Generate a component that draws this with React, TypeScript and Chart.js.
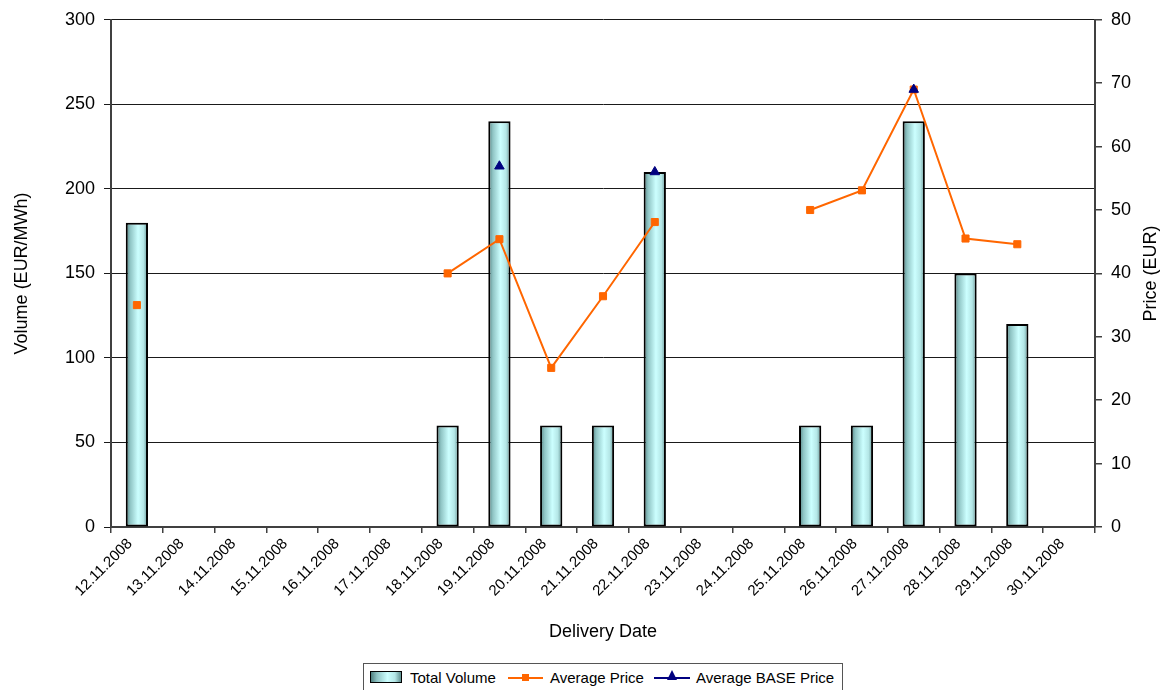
import React, { useEffect, useRef } from "react";
import { Chart, registerables } from "chart.js";

Chart.register(...registerables);

const DATES = [
  "12.11.2008", "13.11.2008", "14.11.2008", "15.11.2008", "16.11.2008",
  "17.11.2008", "18.11.2008", "19.11.2008", "20.11.2008", "21.11.2008",
  "22.11.2008", "23.11.2008", "24.11.2008", "25.11.2008", "26.11.2008",
  "27.11.2008", "28.11.2008", "29.11.2008", "30.11.2008",
];

const TOTAL_VOLUME = [
  180, null, null, null, null, null, 60, 240, 60, 60, 210, null, null, 60, 60, 240, 150, 120, null,
];

const AVERAGE_PRICE = [
  35, null, null, null, null, null, 40, 45.4, 25.1, 36.4, 48.1, null, null, 50, 53.1, 69, 45.5, 44.6, null,
];

const AVERAGE_BASE_PRICE = [
  null, null, null, null, null, null, null, 56.9, null, null, 56, null, null, null, null, 69, null, null, null,
];

const LEFT_TICKS = [0, 50, 100, 150, 200, 250, 300];
const RIGHT_TICKS = [0, 10, 20, 30, 40, 50, 60, 70, 80];

const FONT = '"Liberation Sans", Arial, sans-serif';
const BAR_PCT = 0.43;

const rightTitlePlugin = {
  id: "rightTitle",
  afterDraw(chart: any) {
    const { ctx, chartArea } = chart;
    const s = chart.scales.y1;
    ctx.save();
    ctx.translate(s.right - 18, (chartArea.top + chartArea.bottom) / 2);
    ctx.rotate(-Math.PI / 2);
    ctx.font = `18px ${FONT}`;
    ctx.fillStyle = "#000";
    ctx.textAlign = "center";
    ctx.textBaseline = "middle";
    ctx.fillText("Price (EUR)", 0, 0);
    ctx.restore();
  },
};

function barFill(c: any) {
  const chart = c.chart;
  const xs = chart.scales && chart.scales.x;
  if (!xs || c.type !== "data") return "#ccffff";
  const cx = xs.getPixelForValue(c.dataIndex);
  const w = (xs.width / DATES.length) * BAR_PCT;
  if (!isFinite(cx) || !isFinite(w) || w <= 0) return "#ccffff";
  const g = chart.ctx.createLinearGradient(cx - w / 2, 0, cx + w / 2, 0);
  g.addColorStop(0, "#4f7f7f");
  g.addColorStop(0.2, "#8fc4c4");
  g.addColorStop(0.55, "#ccffff");
  g.addColorStop(0.8, "#b4e6e6");
  g.addColorStop(1, "#5f8f8f");
  return g;
}

export default function App() {
  const ref = useRef<HTMLCanvasElement | null>(null);

  useEffect(() => {
    if (!ref.current) return;
    const chart = new Chart(ref.current, {
      type: "bar",
      data: {
        labels: DATES,
        datasets: [
          {
            type: "line",
            label: "Average BASE Price",
            data: AVERAGE_BASE_PRICE,
            yAxisID: "y1",
            borderColor: "#000080",
            backgroundColor: "#000080",
            borderWidth: 2,
            pointStyle: "triangle",
            pointRadius: 5.5,
            pointBorderWidth: 1,
            spanGaps: false,
            order: 0,
          } as any,
          {
            type: "line",
            label: "Average Price",
            data: AVERAGE_PRICE,
            yAxisID: "y1",
            borderColor: "#ff6600",
            backgroundColor: "#ff6600",
            borderWidth: 2,
            pointStyle: "rect",
            pointRadius: 5,
            pointBorderWidth: 1,
            spanGaps: false,
            order: 1,
          } as any,
          {
            type: "bar",
            label: "Total Volume",
            data: TOTAL_VOLUME,
            yAxisID: "y",
            backgroundColor: barFill,
            borderColor: "#000",
            borderWidth: 2,
            borderSkipped: false,
            barPercentage: BAR_PCT,
            categoryPercentage: 1,
            order: 2,
          } as any,
        ],
      },
      options: {
        animation: false,
        responsive: false,
        maintainAspectRatio: false,
        layout: { padding: { top: 19, left: 0, right: 0, bottom: 0 } },
        plugins: {
          legend: { display: false },
          tooltip: { enabled: false },
          title: { display: false },
        },
        scales: {
          x: {
            offset: true,
            afterFit: (s: any) => {
              s.height = 163;
            },
            grid: {
              display: true,
              offset: true,
              drawOnChartArea: false,
              drawTicks: true,
              tickLength: 6,
              color: "#404040",
              lineWidth: 1.5,
            },
            border: { display: true, color: "#404040", width: 2 },
            ticks: {
              autoSkip: false,
              maxRotation: 45,
              minRotation: 45,
              color: "#000",
              padding: 2,
              labelOffset: -7,
              font: { family: FONT, size: 15 },
            },
            title: {
              display: true,
              text: "Delivery Date",
              color: "#000",
              font: { family: FONT, size: 18 },
              padding: { top: 0, bottom: 47 },
            },
          },
          y: {
            position: "left",
            min: 0,
            max: 300,
            afterFit: (s: any) => {
              s.width = 111;
            },
            afterBuildTicks: (s: any) => {
              s.ticks = LEFT_TICKS.map((v) => ({ value: v }));
            },
            grid: {
              display: true,
              drawOnChartArea: true,
              drawTicks: true,
              tickLength: 7,
              color: "#1a1a1a",
              lineWidth: 1,
            },
            border: { display: true, color: "#404040", width: 2 },
            ticks: {
              color: "#000",
              padding: 9,
              font: { family: FONT, size: 18 },
            },
            title: {
              display: true,
              text: "Volume (EUR/MWh)",
              color: "#000",
              font: { family: FONT, size: 18 },
              padding: { top: 11, bottom: 0 },
            },
          },
          y1: {
            position: "right",
            min: 0,
            max: 80,
            afterFit: (s: any) => {
              s.width = 74;
            },
            afterBuildTicks: (s: any) => {
              s.ticks = RIGHT_TICKS.map((v) => ({ value: v }));
            },
            grid: {
              display: true,
              drawOnChartArea: false,
              drawTicks: true,
              tickLength: 7,
              color: "#404040",
              lineWidth: 1.5,
            },
            border: { display: true, color: "#404040", width: 2 },
            ticks: {
              color: "#000",
              padding: 9,
              font: { family: FONT, size: 18 },
            },
          },
        },
      },
      plugins: [rightTitlePlugin],
    } as any);
    return () => chart.destroy();
  }, []);

  const legendText: React.CSSProperties = {
    position: "absolute",
    top: 0,
    height: 28,
    lineHeight: "28px",
    fontFamily: FONT,
    fontSize: 15,
    color: "#000",
    whiteSpace: "nowrap",
  };

  return (
    <div
      style={{
        position: "fixed",
        left: 0,
        top: 0,
        width: 1169,
        height: 690,
        background: "#fff",
        overflow: "hidden",
      }}
    >
      <canvas ref={ref} width={1169} height={690} style={{ display: "block" }} />
      <div
        style={{
          position: "absolute",
          left: 363,
          top: 663,
          width: 478,
          height: 32,
          border: "1px solid #555",
          background: "#fff",
        }}
      >
        <div
          style={{
            position: "absolute",
            left: 6,
            top: 7,
            width: 30,
            height: 10,
            border: "1.5px solid #000",
            background:
              "linear-gradient(to right, #4f7f7f 0%, #8fc4c4 20%, #ccffff 55%, #b4e6e6 80%, #5f8f8f 100%)",
          }}
        />
        <div style={{ ...legendText, left: 46 }}>Total Volume</div>
        <div
          style={{
            position: "absolute",
            left: 144,
            top: 13,
            width: 35,
            height: 2,
            background: "#ff6600",
          }}
        />
        <div
          style={{
            position: "absolute",
            left: 158,
            top: 10,
            width: 7,
            height: 7,
            background: "#ff6600",
          }}
        />
        <div style={{ ...legendText, left: 186 }}>Average Price</div>
        <div
          style={{
            position: "absolute",
            left: 290,
            top: 13,
            width: 36,
            height: 2,
            background: "#000080",
          }}
        />
        <div
          style={{
            position: "absolute",
            left: 303,
            top: 6,
            width: 0,
            height: 0,
            borderLeft: "5px solid transparent",
            borderRight: "5px solid transparent",
            borderBottom: "10px solid #000080",
          }}
        />
        <div style={{ ...legendText, left: 332 }}>Average BASE Price</div>
      </div>
    </div>
  );
}
